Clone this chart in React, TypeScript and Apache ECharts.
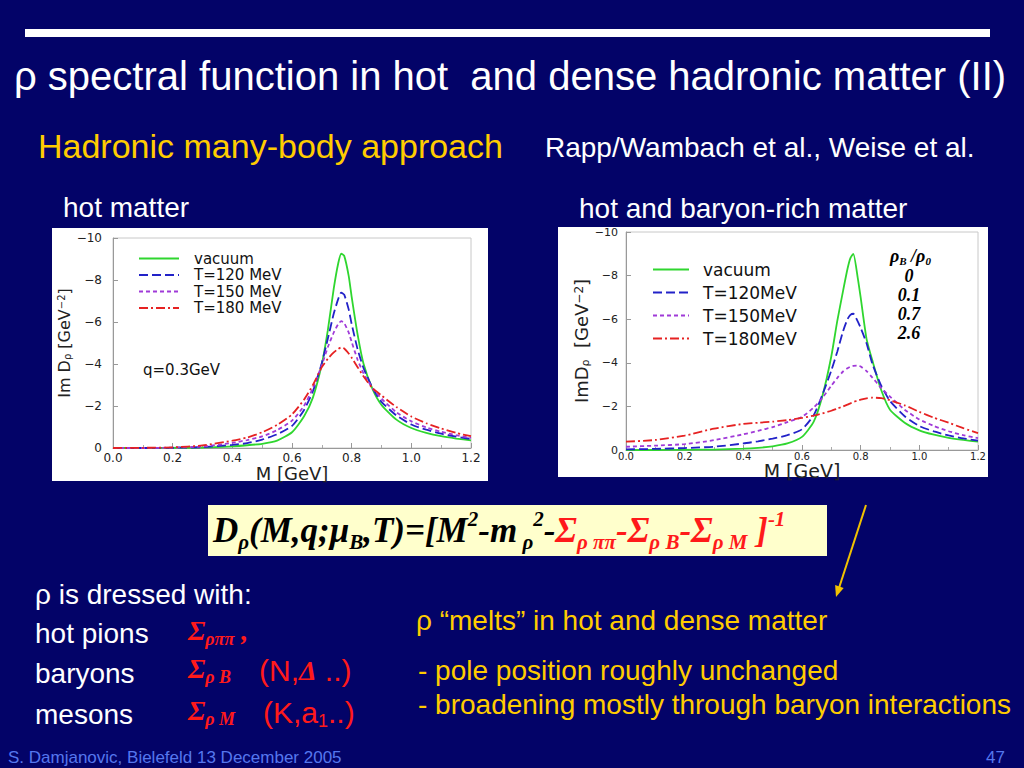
import React, { useEffect, useRef } from "react";
import * as echarts from "echarts";

// invariant mass grid (GeV), shared by all curves
const massGeV = [0, 0.1, 0.2, 0.3, 0.4, 0.45, 0.5, 0.55, 0.6, 0.64, 0.67, 0.7, 0.72, 0.74, 0.755, 0.765, 0.775, 0.79, 0.8, 0.82, 0.84, 0.87, 0.9, 0.95, 1.0, 1.05, 1.1, 1.15, 1.2];

// |Im D_rho| [GeV^-2], hot matter (q = 0.3 GeV)
const hotVacuum = [0, 0, 0.01, 0.02, 0.08, 0.13, 0.2, 0.35, 0.75, 1.5, 2.4, 4.0, 5.6, 7.6, 8.8, 9.25, 9.15, 8.2, 7.2, 5.4, 4.0, 2.8, 2.05, 1.35, 0.95, 0.72, 0.56, 0.45, 0.36];
const hotT120 = [0, 0, 0.01, 0.04, 0.15, 0.23, 0.4, 0.65, 1.05, 1.8, 2.7, 4.05, 5.2, 6.4, 7.1, 7.4, 7.3, 6.6, 5.9, 4.7, 3.8, 2.85, 2.2, 1.55, 1.12, 0.87, 0.68, 0.54, 0.43];
const hotT150 = [0, 0, 0.02, 0.07, 0.24, 0.38, 0.55, 0.85, 1.3, 2.0, 2.85, 3.95, 4.8, 5.5, 5.9, 6.04, 5.95, 5.5, 5.05, 4.2, 3.55, 2.85, 2.35, 1.7, 1.27, 0.98, 0.77, 0.61, 0.48];
const hotT180 = [0, 0.01, 0.03, 0.12, 0.35, 0.5, 0.75, 1.1, 1.6, 2.3, 3.0, 3.85, 4.25, 4.55, 4.72, 4.79, 4.74, 4.5, 4.3, 3.85, 3.4, 2.85, 2.5, 1.95, 1.5, 1.18, 0.93, 0.72, 0.56];

// |Im D_rho| [GeV^-2], hot and baryon-rich matter
const denseVacuum = [0, 0, 0.01, 0.02, 0.06, 0.1, 0.17, 0.3, 0.6, 1.3, 2.5, 4.3, 5.9, 7.3, 8.3, 8.8, 9.0, 7.9, 7.0, 5.1, 4.1, 2.75, 1.85, 1.25, 0.9, 0.7, 0.56, 0.46, 0.38];
const denseT120 = [0.03, 0.05, 0.09, 0.15, 0.3, 0.4, 0.52, 0.68, 0.95, 1.6, 2.55, 3.65, 4.5, 5.45, 6.0, 6.2, 6.25, 5.9, 5.6, 4.9, 3.95, 2.95, 2.25, 1.55, 1.1, 0.85, 0.67, 0.53, 0.43];
const denseT150 = [0.15, 0.2, 0.27, 0.45, 0.72, 0.88, 1.05, 1.28, 1.52, 1.95, 2.4, 2.95, 3.3, 3.6, 3.75, 3.82, 3.86, 3.87, 3.83, 3.62, 3.32, 2.85, 2.45, 1.85, 1.4, 1.1, 0.86, 0.68, 0.54];
const denseT180 = [0.38, 0.46, 0.66, 0.98, 1.2, 1.25, 1.3, 1.37, 1.47, 1.58, 1.68, 1.8, 1.9, 2.0, 2.08, 2.14, 2.2, 2.27, 2.31, 2.37, 2.4, 2.38, 2.28, 2.05, 1.75, 1.48, 1.25, 1.0, 0.77];

const hotLabels = ["vacuum", "T=120 MeV", "T=150 MeV", "T=180 MeV"];
const denseLabels = ["vacuum", "T=120MeV", "T=150MeV", "T=180MeV"];
const densityRatios = ["0", "0.1", "0.7", "2.6"];

const COLORS = ["#2fd62f", "#2222c8", "#a03ad8", "#e62222"];
const DASHES: any[] = ["solid", [9, 4], [4, 3], [9, 3, 2, 3]];

const SANS = "Liberation Sans, Arial, sans-serif";
const PLOT = "DejaVu Sans, sans-serif";
const SERIF = "Liberation Serif, Times New Roman, serif";
const YELLOW = "#ffcc00";
const RED = "#ff1a1a";

function txt(x: number, y: number, text: string, size: number, color: string, extra: any = {}) {
  return {
    type: "text",
    x,
    y,
    z: 10,
    style: {
      text,
      fill: color,
      fontSize: size,
      fontFamily: SANS,
      textAlign: "left",
      align: "left",
      textVerticalAlign: "middle",
      verticalAlign: "middle",
      ...extra,
    },
  };
}

const serifBI = (size: number, color: string, more: any = {}) => ({
  fontFamily: SERIF,
  fontWeight: "bold",
  fontStyle: "italic",
  fontSize: size,
  color,
  fill: color,
  ...more,
});

export default function App() {
  const ref = useRef<HTMLDivElement>(null);

  useEffect(() => {
    if (!ref.current) return;
    const chart = echarts.init(ref.current, undefined, { renderer: "svg" });
    const mk = (vals: number[]) => massGeV.map((m, i) => [m, -vals[i]]);

    const hotSets = [hotVacuum, hotT120, hotT150, hotT180];
    const denseSets = [denseVacuum, denseT120, denseT150, denseT180];

    const mkSeries = (sets: number[][], labels: string[], idx: number) =>
      sets.map((vals, k) => ({
        type: "line",
        name: labels[k],
        xAxisIndex: idx,
        yAxisIndex: idx,
        data: mk(vals),
        showSymbol: false,
        symbol: "none",
        smooth: 0.2,
        silent: true,
        z: 5,
        lineStyle: { color: COLORS[k], width: 1.8, type: DASHES[k] },
        itemStyle: { color: COLORS[k] },
      }));

    const xAxisBase = (idx: number, labelSize: number, labelMargin: number, nameSize: number, nameGap: number) => ({
      gridIndex: idx,
      type: "value",
      min: 0,
      max: 1.2,
      interval: 0.2,
      z: 3,
      axisLine: { show: true, lineStyle: { color: "#999", width: 1 } },
      axisTick: { show: true, inside: true, length: 5, lineStyle: { color: "#999" } },
      minorTick: { show: true, splitNumber: 2, length: 3, lineStyle: { color: "#aaa" } },
      splitLine: { show: false },
      axisLabel: {
        fontFamily: PLOT,
        fontSize: labelSize,
        color: "#222",
        margin: labelMargin,
        formatter: (v: number) => v.toFixed(1),
      },
      name: "M [GeV]",
      nameLocation: "middle",
      nameGap,
      nameTextStyle: { fontFamily: PLOT, fontSize: nameSize, color: "#222" },
    });

    const yAxisBase = (idx: number, labelSize: number, labelMargin: number, name: string, nameSize: number, nameGap: number) => ({
      gridIndex: idx,
      type: "value",
      min: -10,
      max: 0,
      interval: 2,
      inverse: true,
      z: 3,
      axisLine: { show: true, lineStyle: { color: "#999", width: 1 } },
      axisTick: { show: true, inside: true, length: 5, lineStyle: { color: "#999" } },
      splitLine: { show: false },
      axisLabel: {
        fontFamily: PLOT,
        fontSize: labelSize,
        color: "#222",
        margin: labelMargin,
        formatter: (v: number) => (v === 0 ? "0" : "\u2212" + Math.abs(v)),
      },
      name,
      nameLocation: "middle",
      nameGap,
      nameTextStyle: {
        fontFamily: PLOT,
        fontSize: nameSize,
        color: "#222",
        rich: {
          a: { fontFamily: PLOT, fontSize: nameSize, color: "#222" },
          s: { fontFamily: PLOT, fontSize: Math.round(nameSize * 0.6), color: "#222", verticalAlign: "bottom", lineHeight: 10 },
          p: { fontFamily: PLOT, fontSize: Math.round(nameSize * 0.65), color: "#222", verticalAlign: "top", lineHeight: 10 },
        },
      },
    });

    const richText = (x: number, y: number, text: string, rich: any) => ({
      type: "text",
      x,
      y,
      z: 10,
      style: {
        text,
        textAlign: "left",
        align: "left",
        textVerticalAlign: "middle",
        verticalAlign: "middle",
        rich,
      },
    });

    const graphic: any[] = [
      // title bar
      { type: "rect", z: 1, shape: { x: 25, y: 29, width: 965, height: 8 }, style: { fill: "#ffffff" } },
      // chart backgrounds
      { type: "rect", z: -1, shape: { x: 52, y: 228, width: 436, height: 253 }, style: { fill: "#ffffff" } },
      { type: "rect", z: -1, shape: { x: 558, y: 227, width: 430, height: 250 }, style: { fill: "#ffffff" } },
      // titles
      txt(14, 76, "\u03c1 spectral function in hot  and dense hadronic matter (II)", 40, "#ffffff"),
      txt(38, 146, "Hadronic many-body approach", 34, YELLOW),
      txt(545, 147, "Rapp/Wambach et al., Weise et al.", 28, "#ffffff"),
      txt(63, 207, "hot matter", 28, "#ffffff"),
      txt(579, 208, "hot and baryon-rich matter", 28, "#ffffff"),
      // annotations inside charts
      txt(143, 370, "q=0.3GeV", 15, "#111", { fontFamily: PLOT }),
      richText(890, 256, "{a|\u03c1}{s|B}{a| /\u03c1}{s|0}", {
        a: serifBI(18, "#000", { lineHeight: 20 }),
        s: serifBI(11, "#000", { lineHeight: 11, verticalAlign: "bottom" }),
      }),
      ...densityRatios.map((r, i) =>
        txt(909, 276 + i * 19, r, 18, "#000", {
          fontFamily: SERIF,
          fontWeight: "bold",
          fontStyle: "italic",
          textAlign: "center",
          align: "center",
        })
      ),
      // formula box
      { type: "rect", z: 1, shape: { x: 208, y: 505, width: 619, height: 51 }, style: { fill: "#ffffcc" } },
      richText(
        213,
        530,
        "{m|D}{ms|\u03c1}{m|(M,q;\u03bc}{ms|B}{m|,T)=[M}{mp|2}{m|-m}{ms| \u03c1}{mp|2}{m|-}{r|\u03a3}{rs|\u03c1 \u03c0\u03c0}{r|-\u03a3}{rs|\u03c1 B}{r|-\u03a3}{rs|\u03c1 M}{r| ]}{rp|-1}",
        {
          m: serifBI(35, "#000", { lineHeight: 44 }),
          ms: serifBI(21, "#000", { lineHeight: 21, verticalAlign: "bottom" }),
          mp: serifBI(21, "#000", { lineHeight: 24, verticalAlign: "top" }),
          r: serifBI(35, RED, { lineHeight: 44 }),
          rs: serifBI(21, RED, { lineHeight: 21, verticalAlign: "bottom" }),
          rp: serifBI(21, RED, { lineHeight: 24, verticalAlign: "top" }),
        }
      ),
      // arrow
      { type: "line", z: 10, shape: { x1: 866, y1: 505, x2: 839, y2: 588 }, style: { stroke: "#f2c200", lineWidth: 2 } },
      { type: "polygon", z: 10, shape: { points: [[836, 597], [843.7, 587.9], [835.1, 585.1]] }, style: { fill: "#f2c200" } },
      // bottom left
      txt(35, 594, "\u03c1 is dressed with:", 28, "#ffffff"),
      txt(35, 633, "hot pions", 28, "#ffffff"),
      txt(35, 673, "baryons", 28, "#ffffff"),
      txt(35, 714, "mesons", 28, "#ffffff"),
      ...[
        { y: 630, t: "{s|\u03a3}{ss|\u03c1\u03c0\u03c0}{s| ,}" },
        { y: 668, t: "{s|\u03a3}{ss|\u03c1 B}" },
        { y: 710, t: "{s|\u03a3}{ss|\u03c1 M}" },
      ].map((row) =>
        richText(188, row.y, row.t, {
          s: serifBI(28, RED, { lineHeight: 36 }),
          ss: serifBI(18, RED, { lineHeight: 18, verticalAlign: "bottom" }),
        })
      ),
      richText(259, 670, "{t|(N,}{d|\u0394}{t| ..)}", {
        t: { fontFamily: SANS, fontSize: 30, color: RED, fill: RED, lineHeight: 34 },
        d: serifBI(28, RED, { lineHeight: 34 }),
      }),
      richText(263, 712, "{t|(K,a}{s|1}{t|..)}", {
        t: { fontFamily: SANS, fontSize: 30, color: RED, fill: RED, lineHeight: 36 },
        s: { fontFamily: SANS, fontSize: 18, color: RED, fill: RED, lineHeight: 18, verticalAlign: "bottom" },
      }),
      // right text
      txt(416, 620, "\u03c1 \u201cmelts\u201d in hot and dense matter", 28, YELLOW),
      txt(418, 670, "- pole position roughly unchanged", 28, YELLOW),
      txt(418, 704, "- broadening mostly through baryon interactions", 28, YELLOW),
      // footer
      txt(8, 757, "S. Damjanovic, Bielefeld 13 December 2005", 17, "#5577ee"),
      txt(1005, 757, "47", 17, "#5577ee", { textAlign: "right", align: "right" }),
    ];

    chart.setOption({
      animation: false,
      backgroundColor: "#030368",
      textStyle: { fontFamily: PLOT },
      grid: [
        { left: 113, top: 238, width: 358, height: 210, show: true, borderColor: "#c8c8c8", borderWidth: 1, backgroundColor: "transparent", z: 0 },
        { left: 626, top: 232, width: 352, height: 218, show: true, borderColor: "#c8c8c8", borderWidth: 1, backgroundColor: "transparent", z: 0 },
      ],
      xAxis: [xAxisBase(0, 12, 4, 18, 12), xAxisBase(1, 10, 1, 19, 4)],
      yAxis: [
        yAxisBase(0, 12, 11, "{a|Im D}{s|\u03c1}{a| [GeV}{p|\u22122}{a|]}", 16, 40),
        yAxisBase(1, 11, 8, "{a|ImD}{s|\u03c1}{a|  [GeV}{p|\u22122}{a|]}", 18, 35),
      ],
      legend: [
        {
          data: hotLabels,
          left: 138,
          top: 251,
          padding: 0,
          orient: "vertical",
          itemWidth: 40,
          itemHeight: 14,
          itemGap: 1.5,
          selectedMode: false,
          z: 6,
          itemStyle: { opacity: 0 },
          textStyle: { fontFamily: PLOT, fontSize: 15, color: "#111", padding: [0, 0, 0, 10] },
        },
        {
          data: denseLabels,
          left: 652,
          top: 261,
          padding: 0,
          orient: "vertical",
          itemWidth: 36,
          itemHeight: 14,
          itemGap: 6,
          selectedMode: false,
          z: 6,
          itemStyle: { opacity: 0 },
          textStyle: { fontFamily: PLOT, fontSize: 17, color: "#111", padding: [0, 0, 0, 9] },
        },
      ],
      series: [...mkSeries(hotSets, hotLabels, 0), ...mkSeries(denseSets, denseLabels, 1)],
      graphic,
    });

    return () => chart.dispose();
  }, []);

  return <div ref={ref} style={{ position: "fixed", left: 0, top: 0, width: 1024, height: 768 }} />;
}
